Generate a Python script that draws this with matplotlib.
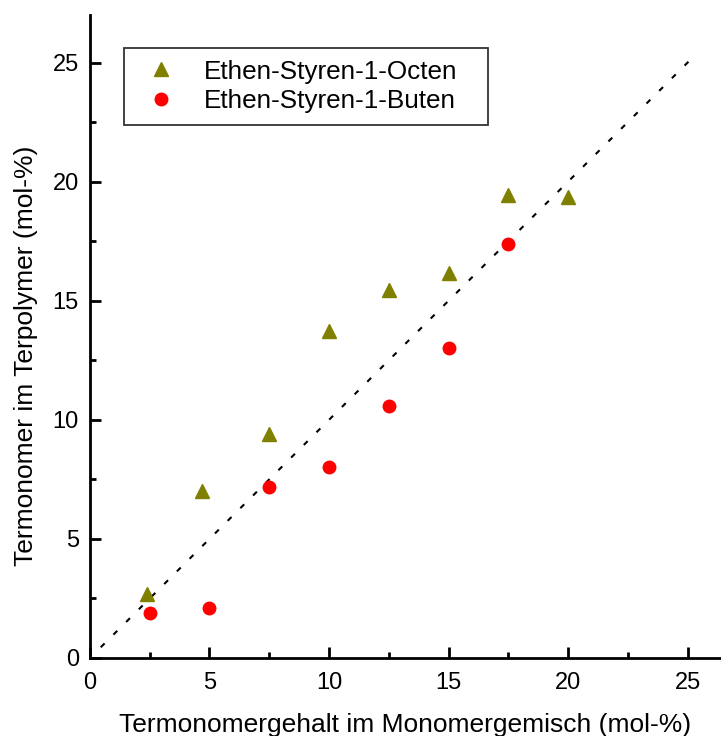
import matplotlib
matplotlib.use("Agg")
import matplotlib.pyplot as plt
from matplotlib.ticker import MultipleLocator

plt.rcParams["font.family"] = ["Liberation Sans", "DejaVu Sans"]

# ── Data ─────────────────────────────────────────────────────────
octen_x = [2.4, 4.7, 7.5, 10.0, 12.5, 15.0, 17.5, 20.0]
octen_y = [2.7, 7.0, 9.4, 13.75, 15.45, 16.15, 19.45, 19.35]

buten_x = [2.5, 5.0, 7.5, 10.0, 12.5, 15.0, 17.5]
buten_y = [1.9, 2.1, 7.2, 8.0, 10.6, 13.0, 17.4]

diag = [0.45, 25.1]

fig = plt.figure(figsize=(7.21, 7.36), dpi=100)
ax = fig.add_axes([0.1248, 0.106, 0.8752, 0.8736])

ax.plot(diag, diag, color="black", linestyle=(0, (2.6, 6.0)), linewidth=1.5)
ax.plot(octen_x, octen_y, linestyle="none", marker="^", markersize=10,
        color="#808000", label="Ethen-Styren-1-Octen")
ax.plot(buten_x, buten_y, linestyle="none", marker="o", markersize=9,
        color="#FF0000", label="Ethen-Styren-1-Buten")

ax.set_xlim(0, 26.4)
ax.set_ylim(0, 27.0)
ax.xaxis.set_major_locator(MultipleLocator(5))
ax.xaxis.set_minor_locator(MultipleLocator(2.5))
ax.yaxis.set_major_locator(MultipleLocator(5))
ax.yaxis.set_minor_locator(MultipleLocator(2.5))

for side in ("top", "right"):
    ax.spines[side].set_visible(False)
for side in ("left", "bottom"):
    ax.spines[side].set_linewidth(2.0)

ax.tick_params(which="major", direction="in", length=8, width=2.0, labelsize=17)
ax.tick_params(which="minor", direction="in", length=4.5, width=2.0)
ax.tick_params(axis="x", which="major", pad=10)
ax.tick_params(axis="y", which="major", pad=8)

ax.set_xlabel("Termonomergehalt im Monomergemisch (mol-%)", fontsize=19, labelpad=14)
ax.set_ylabel("Termonomer im Terpolymer (mol-%)", fontsize=19)
ax.yaxis.set_label_coords(-0.083, 0.470)

# legend box spans a fixed width like the original, content stays left
leg = ax.legend(loc="upper left", bbox_to_anchor=(0.0539, 0.825, 0.577, 0.124),
                mode="expand", fontsize=18.8, frameon=True, fancybox=False,
                edgecolor="black", handletextpad=0.72, borderpad=0.45,
                labelspacing=0.22, handlelength=1.9, borderaxespad=0)
leg.get_frame().set_linewidth(1.3)

fig.savefig("out.png", dpi=100)
